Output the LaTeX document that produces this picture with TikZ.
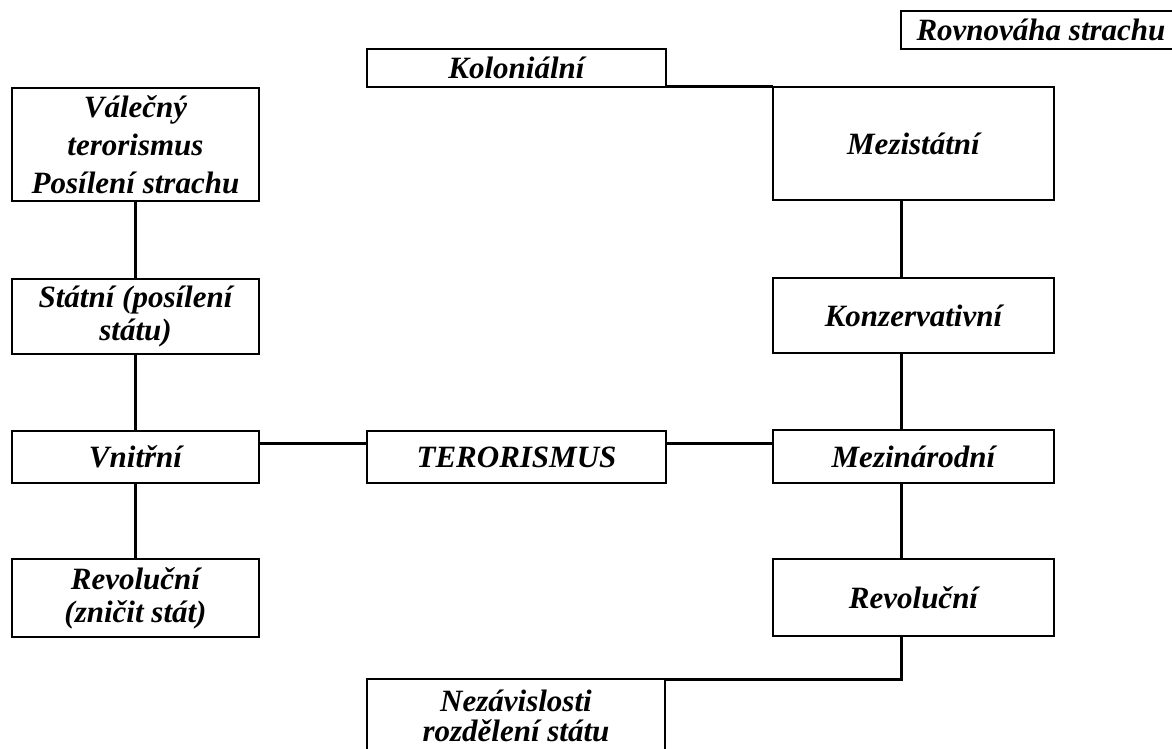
\documentclass[tikz,border=0pt]{standalone}
\usepackage{fontspec}
\newfontfamily\tnr{Liberation Serif}
\begin{document}
\begin{tikzpicture}[x=1pt,y=-1pt,
  box/.style={draw, line width=2.3pt, inner sep=0pt, outer sep=0pt, align=center,
    font=\tnr\bfseries\itshape\fontsize{31}{33}\selectfont},
  conn/.style={line width=3pt}]
\useasboundingbox (0,0) rectangle (1172,749);

\node[box, minimum width=280, minimum height=38] (rov) at (1041,30) {Rovnováha strachu};
\node[box, minimum width=299, minimum height=38] (kol) at (516.5,68) {Koloniální};
\node[box, minimum width=247, minimum height=113] (val) at (135.5,144.5) {Válečný\\[5pt]terorismus\\[5pt]Posílení strachu};
\node[box, minimum width=281, minimum height=113] (mez) at (913.5,143.5) {Mezistátní};
\node[box, minimum width=247, minimum height=75] (sta) at (135.5,316.5) {Státní (posílení\\státu)};
\node[box, minimum width=281, minimum height=75] (kon) at (913.5,315.5) {Konzervativní};
\node[box, minimum width=247, minimum height=52] (vni) at (135.5,457) {Vnitřní};
\node[box, minimum width=299, minimum height=52] (ter) at (516.5,457) {TERORISMUS};
\node[box, minimum width=281, minimum height=53] (mzn) at (913.5,456.5) {Mezinárodní};
\node[box, minimum width=247, minimum height=78] (revl) at (135.5,598) {Revoluční\\(zničit stát)};
\node[box, minimum width=281, minimum height=77] (revr) at (913.5,597.5) {Revoluční};
\node[box, minimum width=298, minimum height=82, text depth=8pt, anchor=north] (nez) at (516,679) {Nezávislosti\\[-3pt]rozdělení státu};

\coordinate (rx) at (901,0);
\coordinate (ty) at (0,443);

\draw[conn] (kol.south east) -- (kol.south east -| mez.west);
\draw[conn] (val.south) -- (sta.north);
\draw[conn] (sta.south) -- (vni.north);
\draw[conn] (vni.south) -- (revl.north);
\draw[conn] (mez.south -| rx) -- (kon.north -| rx);
\draw[conn] (kon.south -| rx) -- (mzn.north -| rx);
\draw[conn] (mzn.south -| rx) -- (revr.north -| rx);
\draw[conn] (revr.south -| rx) |- (nez.north east);
\draw[conn] (vni.east |- ty) -- (ter.west |- ty);
\draw[conn] (ter.east |- ty) -- (mzn.west |- ty);
\end{tikzpicture}
\end{document}
